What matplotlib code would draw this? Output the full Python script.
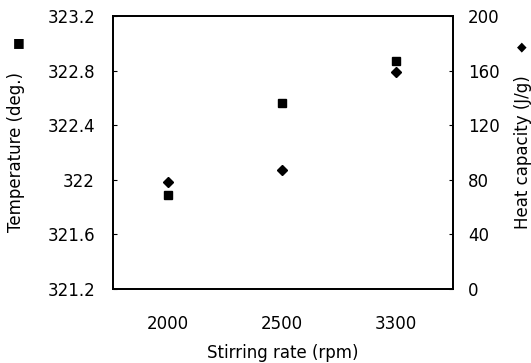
import matplotlib
matplotlib.use('Agg')
import matplotlib.pyplot as plt
import numpy as np

# stirring rates (categorical)
rates = ['2000', '2500', '3300']
# temperature (deg.), square markers, left axis
temperature = [321.89, 322.56, 322.87]
# heat capacity (J/g), diamond markers, right axis
heat_capacity = [78, 87, 159]

temp_ticks = [321.2, 321.6, 322, 322.4, 322.8, 323.2]
temp_labels = ['321.2', '321.6', '322', '322.4', '322.8', '323.2']
heat_ticks = [0, 40, 80, 120, 160, 200]

plt.rcParams['font.family'] = ['DejaVu Sans']

fig = plt.figure(figsize=(5.31, 3.63), dpi=100)
ax = fig.add_axes([0.213, 0.204, 0.640, 0.752])
ax2 = ax.twinx()

x = np.arange(len(rates))
ax.plot(x, temperature, 's', color='black', markersize=6)
ax2.plot(x, heat_capacity, 'D', color='black', markersize=5.5)

ax.set_xlim(-0.48, 2.5)
ax.set_ylim(321.2, 323.2)
ax2.set_ylim(0, 200)

ax.set_xticks(x)
ax.set_xticklabels(rates)
ax.set_yticks(temp_ticks)
ax.set_yticklabels(temp_labels)
ax2.set_yticks(heat_ticks)

fs = 12
ax.tick_params(axis='x', length=0, pad=19, labelsize=fs)
ax.tick_params(axis='y', direction='in', length=3, width=0.8, pad=13, labelsize=fs)
ax2.tick_params(axis='y', direction='in', length=3, width=0.8, pad=11, labelsize=fs)

for a in (ax, ax2):
    for s in a.spines.values():
        s.set_linewidth(1.3)

ax.set_xlabel('Stirring rate (rpm)', fontsize=fs)
ax.xaxis.set_label_coords(0.5, -0.2)
ax.set_ylabel('Temperature (deg.)', fontsize=fs)
ax.yaxis.set_label_coords(-0.26, 0.5)
ax2.set_ylabel('Heat capacity (J/g)', fontsize=fs, rotation=90)
ax2.yaxis.set_label_coords(1.18, 0.5)

# symbol keys next to the axis labels
fig.text(19 / 531, 1 - 43 / 363, '■', fontsize=9, ha='center', va='center')
fig.text(522 / 531, 1 - 47 / 363, '◆', fontsize=9, ha='center', va='center')

plt.savefig('out.png', dpi=100)
